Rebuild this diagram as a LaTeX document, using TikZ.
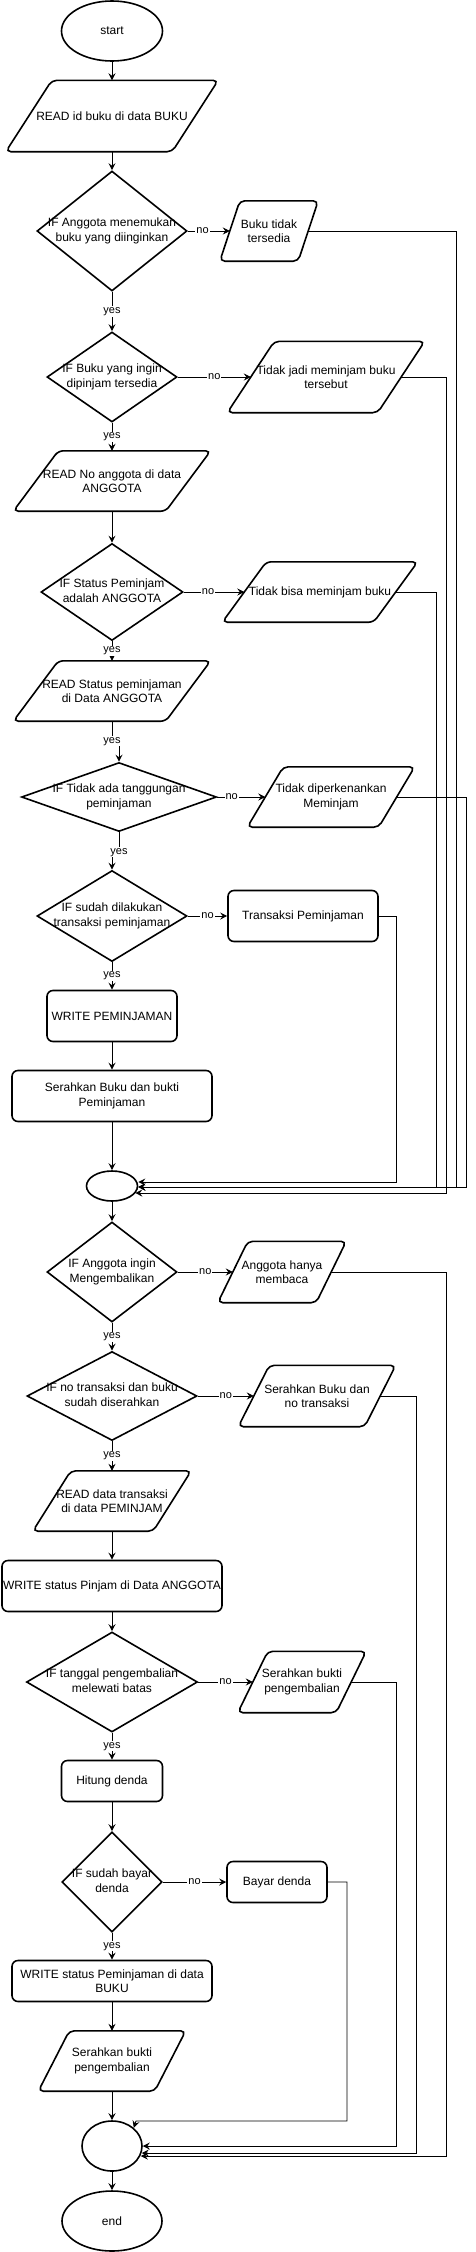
\documentclass[tikz,border=0pt]{standalone}
\usepackage{fontspec}
\setmainfont{Liberation Sans}
\usetikzlibrary{shapes.geometric,arrows.meta}
\newcommand{\dtext}[1]{\makebox[0pt]{\begin{tabular}{@{}c@{}}#1\end{tabular}}}

\begin{document}
\begin{tikzpicture}[x=1pt,y=-1pt,font=\fontsize{12}{14.5}\selectfont,
  >={Stealth[length=7pt,width=7pt,inset=2.5pt]}]
\tikzstyle{term}=[draw,ellipse,line width=1.6pt,inner sep=0pt]
\tikzstyle{proc}=[draw,rectangle,rounded corners=6pt,line width=1.6pt,align=center,inner sep=0pt]
\tikzstyle{dec}=[draw,diamond,line width=1.6pt,inner sep=0pt]
\tikzstyle{io}=[rectangle,align=center,inner sep=0pt]
\tikzstyle{lbl}=[fill=white,inner sep=1pt,font=\fontsize{11}{13}\selectfont]
\tikzstyle{arr}=[->,line width=0.9pt]
\useasboundingbox (0,0) rectangle (475,2252);

% peminjaman
\node [term,minimum width=101pt,minimum height=60pt] (start) at (112,31) {start};
\node [io,node distance=85pt,below of=start,minimum width=166pt,minimum height=71pt] (rd1) {READ id buku di data BUKU};
\node [dec,node distance=115pt,below of=rd1,minimum width=150pt,minimum height=120pt] (d1) {\dtext{IF Anggota menemukan\\buku yang diinginkan}};
\node [io,node distance=157pt,right of=d1,minimum width=78pt,minimum height=60pt] (o1) {Buku tidak\\tersedia};
\node [dec,node distance=146pt,below of=d1,minimum width=130pt,minimum height=90pt] (d2) {\dtext{IF Buku yang ingin\\dipinjam tersedia}};
\node [io,node distance=214pt,right of=d2,minimum width=150pt,minimum height=71pt] (o2) {Tidak jadi meminjam buku\\tersebut};
\node [io,node distance=104pt,below of=d2,minimum width=152pt,minimum height=60pt] (rd2) {READ No anggota di data\\ANGGOTA};
\node [dec,node distance=111pt,below of=rd2,minimum width=142pt,minimum height=97pt] (d3) {\dtext{IF Status Peminjam\\adalah ANGGOTA}};
\node [io,node distance=208pt,right of=d3,minimum width=151pt,minimum height=60pt] (o3) {Tidak bisa meminjam buku};
\node [io,node distance=99pt,below of=d3,minimum width=152pt,minimum height=60pt] (rd3) {READ Status peminjaman\\di Data ANGGOTA};
\node [dec,node distance=106pt,below of=rd3,xshift=7pt,minimum width=195pt,minimum height=69pt] (d4) {\dtext{IF Tidak ada tanggungan\\peminjaman}};
\node [io,node distance=212pt,right of=d4,minimum width=131pt,minimum height=60pt] (o4) {Tidak diperkenankan\\Meminjam};
\node [dec,node distance=119pt,below of=d4,xshift=-7pt,minimum width=150pt,minimum height=91pt] (d5) {\dtext{IF sudah dilakukan\\transaksi peminjaman}};
\node [proc,node distance=191pt,right of=d5,minimum width=150pt,minimum height=51pt] (p1) {Transaksi Peminjaman};
\node [proc,node distance=100pt,below of=d5,minimum width=130pt,minimum height=51pt] (w1) {WRITE PEMINJAMAN};
\node [proc,node distance=80pt,below of=w1,minimum width=200pt,minimum height=51pt] (p2) {Serahkan Buku dan bukti\\Peminjaman};
\node [term,node distance=90pt,below of=p2,minimum width=51pt,minimum height=30pt] (c1) {};

% pengembalian
\node [dec,node distance=86pt,below of=c1,minimum width=130pt,minimum height=100pt] (d6) {\dtext{IF Anggota ingin\\Mengembalikan}};
\node [io,node distance=170pt,right of=d6,minimum width=98pt,minimum height=61pt] (o5) {Anggota hanya\\membaca};
\node [dec,node distance=124pt,below of=d6,minimum width=170pt,minimum height=89pt] (d7) {\dtext{IF no transaksi dan buku\\sudah diserahkan}};
\node [io,node distance=205pt,right of=d7,minimum width=126pt,minimum height=61pt] (o6) {Serahkan Buku dan\\no transaksi};
\node [io,node distance=105pt,below of=d7,minimum width=120pt,minimum height=60pt] (rd4) {READ data transaksi\\di data PEMINJAM};
\node [proc,node distance=85pt,below of=rd4,minimum width=220pt,minimum height=51pt] (w2) {WRITE status Pinjam di Data ANGGOTA};
\node [dec,node distance=96pt,below of=w2,minimum width=171pt,minimum height=100pt] (d8) {\dtext{IF tanggal pengembalian\\melewati batas}};
\node [io,node distance=190pt,right of=d8,minimum width=98pt,minimum height=61pt] (o7) {Serahkan bukti\\pengembalian};
\node [proc,node distance=99pt,below of=d8,minimum width=101pt,minimum height=41pt] (p3) {Hitung denda};
\node [dec,node distance=101pt,below of=p3,minimum width=100pt,minimum height=100pt] (d9) {\dtext{IF sudah bayar\\denda}};
\node [proc,node distance=165pt,right of=d9,minimum width=100pt,minimum height=41pt] (p4) {Bayar denda};
\node [proc,node distance=99pt,below of=d9,minimum width=200pt,minimum height=41pt] (w3) {WRITE status Peminjaman di data\\BUKU};
\node [io,node distance=80pt,below of=w3,minimum width=116pt,minimum height=60pt] (o8) {Serahkan bukti\\pengembalian};
\node [term,node distance=85pt,below of=o8,minimum width=60pt,minimum height=50pt] (c2) {};
\node [term,node distance=75pt,below of=c2,minimum width=100pt,minimum height=60pt] (stop) {end};

% jajaran genjang
\foreach \n/\s in {rd1/46,o1/20,o2/47,rd2/45,o3/44,rd3/45,o4/36,o5/30,o6/31,rd4/38,o7/30,o8/31}
  \draw[line width=1.6pt,rounded corners=5pt]
    ([xshift={-\s/2*1pt}]\n.south west) -- ([xshift={-\s/2*1pt}]\n.south east)
    -- ([xshift={\s/2*1pt}]\n.north east) -- ([xshift={\s/2*1pt}]\n.north west) -- cycle;

\path[arr]
(start) edge (rd1)
(rd1) edge (d1)
(d1) edge node[lbl]{yes} (d2)
(d1) edge node[lbl,pos=0.35]{no} (o1)
(d2) edge node[lbl]{yes} (rd2)
(d2) edge node[lbl]{no} (o2)
(rd2) edge (d3)
(d3) edge node[lbl]{yes} (rd3)
(d3) edge node[lbl,pos=0.4]{no} (o3)
(d4) edge node[lbl,pos=0.3]{no} (o4)
(d5) edge node[lbl]{yes} (w1)
(d5) edge node[lbl]{no} (p1)
(w1) edge (p2)
(p2) edge (c1)
(c1) edge (d6)
(d6) edge node[lbl]{yes} (d7)
(d6) edge node[lbl]{no} (o5)
(d7) edge node[lbl]{yes} (rd4)
(d7) edge node[lbl]{no} (o6)
(rd4) edge (w2)
(w2) edge (d8)
(d8) edge node[lbl]{yes} (p3)
(d8) edge node[lbl]{no} (o7)
(p3) edge (d9)
(d9) edge node[lbl]{yes} (w3)
(d9) edge node[lbl]{no} (p4)
(w3) edge (o8)
(o8) edge (c2)
(c2) edge (stop);

\draw[arr] (rd3.south) -- ++(0,20) node[lbl]{yes} -| (d4.north);
\draw[arr] (d4.south) -- ++(0,20) node[lbl]{yes} -| (d5.north);

% kembali ke konektor
\draw[arr] (p1.east) -| (396,1182) -- ([yshift=4pt]c1.east);
\draw[arr] (o3.east) -| (436,1187) -- ([yshift=-1pt]c1.east);
\draw[arr] (o1.east) -| (456,1187) -- ([yshift=-1pt]c1.east);
\draw[arr] (o4.east) -| (466,1187) -- ([yshift=-1pt]c1.east);
\draw[arr] (o2.east) -| (446,1193) -- ([shift={(-3pt,-7pt)}]c1.east);
\draw[arr] (p4.east) -| (347,2121) -- (136,2121) -- (c2.north east);
\draw[arr] (o7.east) -| (396,2146) -- (c2.east);
\draw[arr] (o6.east) -| (416,2153) -- ([shift={(-1pt,-7pt)}]c2.east);
\draw[arr] (o5.east) -| (446,2156) -- ([shift={(-2pt,-10pt)}]c2.east);
\end{tikzpicture}
\end{document}
